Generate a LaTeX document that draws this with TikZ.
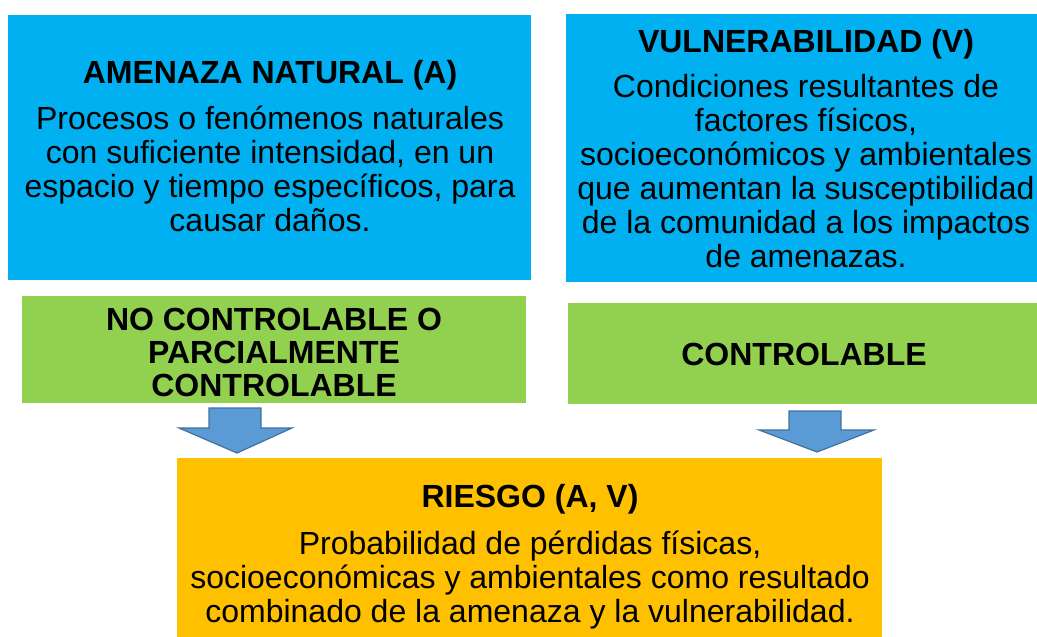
\documentclass[tikz,border=0pt]{standalone}
\usepackage{fontspec}
\setmainfont{Liberation Sans}
\definecolor{cblue}{HTML}{00B0F0}
\definecolor{cgreen}{HTML}{92D050}
\definecolor{corange}{HTML}{FFC000}
\definecolor{carrow}{HTML}{5B9BD5}
\definecolor{carrowline}{HTML}{41719C}
\begin{document}
\begin{tikzpicture}[x=1pt,y=-1pt,
  ttl/.style={font=\fontsize{32}{34}\selectfont\bfseries,inner sep=0pt,align=center},
  body/.style={font=\fontsize{32}{34}\selectfont,inner sep=0pt,align=center},
  blockarrow/.style={fill=carrow,draw=carrowline,line width=1.2pt,line join=miter}]
\useasboundingbox (0,0) rectangle (1037,637);
\fill[white] (0,0) rectangle (1037,637);
% panels
\fill[cblue] (8,15) rectangle (531,280);
\fill[cblue] (566,14) rectangle (1037,282);
\fill[cgreen] (22,296) rectangle (526,403);
\fill[cgreen] (568,303) rectangle (1037,404);
\fill[corange] (177,458) rectangle (882,637);
% texts
\node[ttl] (tA) at (270,75) {AMENAZA NATURAL (A)};
\node[body,anchor=north] (bA) at (270,106) {Procesos o fenómenos naturales\\con suficiente intensidad, en un\\espacio y tiempo específicos, para\\causar daños.};
\node[ttl] (tV) at (806,44) {VULNERABILIDAD (V)};
\node[body,anchor=north] (bV) at (806,74) {Condiciones resultantes de\\factores físicos,\\socioeconómicos y ambientales\\que aumentan la susceptibilidad\\de la comunidad a los impactos\\de amenazas.};
\node[ttl,font=\fontsize{32}{33}\selectfont\bfseries] (gA) at (274,352) {NO CONTROLABLE O\\PARCIALMENTE\\CONTROLABLE};
\node[ttl] (gV) at (804,354) {CONTROLABLE};
\node[ttl] (tR) at (530,499) {RIESGO (A, V)};
\node[body,anchor=north] (bR) at (530,531) {Probabilidad de pérdidas físicas,\\socioeconómicas y ambientales como resultado\\combinado de la amenaza y la vulnerabilidad.};
% block arrows
\draw[blockarrow] (209,408) -- (261,408) -- (261,428) -- (292,428) -- (237,453) -- (179,428) -- (209,428) -- cycle;
\draw[blockarrow] (789,411) -- (841,411) -- (841,430) -- (874,430) -- (817,452) -- (759,430) -- (789,430) -- cycle;
\end{tikzpicture}
\end{document}
